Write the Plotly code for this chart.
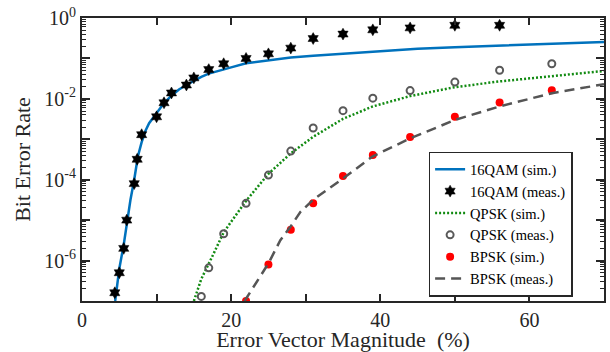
import plotly.graph_objects as go

# ---------------- data ----------------
qam16_sim_x = [4.45, 5.0, 5.6, 6.0, 6.5, 7.0, 7.5, 8.0, 8.5, 9.0, 10, 11, 12, 13, 14, 15, 16, 17, 18,
               20, 22, 25, 28, 31, 35, 40, 45, 50, 56, 63, 70]
qam16_sim_y = [1e-7, 6.3e-7, 2.5e-6, 8.9e-6, 3.2e-5, 1.0e-4, 3.8e-4, 8.5e-4, 1.6e-3, 2.5e-3, 4.4e-3,
               7.9e-3, 1.2e-2, 1.7e-2, 2.2e-2, 2.8e-2, 3.5e-2, 4.2e-2, 4.8e-2,
               6.0e-2, 7.6e-2, 8.9e-2, 0.105, 0.117, 0.132, 0.151, 0.174, 0.19, 0.209, 0.232, 0.254]

qam16_meas_x = [4.4, 5.0, 5.6, 6.0, 7.0, 7.4, 8.0, 10, 11, 12, 14, 15, 17, 19, 22, 25, 28, 31,
                35, 39, 44, 50, 56]
qam16_meas_y = [1.6e-7, 5e-7, 2e-6, 1e-5, 8e-5, 3.2e-4, 1.3e-3, 3.6e-3, 8e-3, 1.4e-2, 2.2e-2, 3.3e-2,
                5.3e-2, 7.4e-2, 0.10, 0.13, 0.18, 0.31, 0.40, 0.51, 0.57, 0.66, 0.66]

qpsk_sim_x = [15.0, 16, 17.5, 19, 22, 25, 28, 31, 35, 39, 44, 50, 56, 63, 70]
qpsk_sim_y = [1e-7, 3.5e-7, 1.3e-6, 5.0e-6, 3.0e-5, 1.4e-4, 4.5e-4, 1.15e-3, 3.2e-3, 6.5e-3,
              1.17e-2, 1.95e-2, 2.7e-2, 3.7e-2, 4.9e-2]

qpsk_meas_x = [16, 17, 19, 22, 25, 28, 31, 35, 39, 44, 50, 56, 63]
qpsk_meas_y = [1.3e-7, 6.6e-7, 4.6e-6, 2.6e-5, 1.3e-4, 5.1e-4, 1.9e-3, 5.1e-3, 1.04e-2, 1.6e-2,
               2.6e-2, 5.1e-2, 7.4e-2]

bpsk_sim_x = [22, 25, 28, 31, 35, 39, 44, 50, 56, 63]
bpsk_sim_y = [1e-7, 8e-7, 5.8e-6, 2.6e-5, 1.23e-4, 4.1e-4, 1.14e-3, 3.6e-3, 8.1e-3, 1.64e-2]

bpsk_meas_x = [21.8, 23.9, 25, 26.6, 28, 29.3, 31, 35, 39, 44, 50, 56, 63, 70]
bpsk_meas_y = [1e-7, 3.9e-7, 8.5e-7, 3.2e-6, 7.1e-6, 1.6e-5, 3.2e-5, 1.07e-4, 3.8e-4, 1.05e-3,
               3.0e-3, 6.5e-3, 1.38e-2, 2.3e-2]

x_tick_vals = [0, 10, 20, 30, 40, 50, 60, 70]
x_tick_text = ["0", "", "20", "", "40", "", "60", ""]
y_tick_vals = [1e-7, 1e-6, 1e-5, 1e-4, 1e-3, 1e-2, 1e-1, 1]
y_tick_text = ["", "10<sup>-6</sup>", "", "10<sup>-4</sup>", "", "10<sup>-2</sup>", "", "10<sup>0</sup>"]

# ---------------- figure ----------------
FONT = "Liberation Serif, Times New Roman, serif"
AXC = "#262626"

fig = go.Figure()
fig.add_trace(go.Scatter(x=qam16_sim_x, y=qam16_sim_y, mode="lines", name="16QAM (sim.)",
                         line=dict(color="#0072BD", width=2.5)))
fig.add_trace(go.Scatter(x=qam16_meas_x, y=qam16_meas_y, mode="markers", name="16QAM (meas.)",
                         marker=dict(symbol="hexagram", size=9, color="black",
                                     line=dict(color="black", width=0.5))))
fig.add_trace(go.Scatter(x=qpsk_sim_x, y=qpsk_sim_y, mode="lines", name="QPSK (sim.)",
                         line=dict(color="#118a11", width=2.5, dash="2px,2px")))
fig.add_trace(go.Scatter(x=qpsk_meas_x, y=qpsk_meas_y, mode="markers", name="QPSK (meas.)",
                         marker=dict(symbol="circle-open", size=7, color="#595959",
                                     line=dict(color="#595959", width=2))))
fig.add_trace(go.Scatter(x=bpsk_sim_x, y=bpsk_sim_y, mode="markers", name="BPSK (sim.)",
                         marker=dict(symbol="circle", size=8, color="#ff0000")))
fig.add_trace(go.Scatter(x=bpsk_meas_x, y=bpsk_meas_y, mode="lines", name="BPSK (meas.)",
                         line=dict(color="#555555", width=2.5, dash="10px,6px")))

minor_y = [m * 10.0 ** e for e in range(-7, 0) for m in range(2, 10)]

fig.update_xaxes(range=[0, 70], tickmode="array", tickvals=x_tick_vals, ticktext=x_tick_text,
                 ticks="inside", ticklen=7, tickwidth=1.5, tickcolor=AXC,
                 showline=True, linewidth=2, linecolor=AXC, mirror="ticks",
                 showgrid=False, zeroline=False, automargin=False,
                 tickfont=dict(family=FONT, size=20, color=AXC),
                 title=dict(text="Error Vector Magnitude  (%)",
                            font=dict(family=FONT, size=22, color=AXC), standoff=6))
fig.update_yaxes(type="log", range=[-7, 0], tickmode="array", tickvals=y_tick_vals,
                 ticktext=y_tick_text,
                 ticks="inside", ticklen=8, tickwidth=1.5, tickcolor=AXC,
                 minor=dict(tickmode="array", tickvals=minor_y, ticks="inside", ticklen=4,
                            tickwidth=1, tickcolor=AXC, showgrid=False),
                 showline=True, linewidth=2, linecolor=AXC, mirror="ticks",
                 showgrid=False, zeroline=False, automargin=False,
                 tickfont=dict(family=FONT, size=20, color=AXC),
                 title=dict(text="Bit Error Rate",
                            font=dict(family=FONT, size=22, color=AXC), standoff=8))

fig.update_layout(
    width=610, height=352,
    margin=dict(l=82, r=6, t=18, b=51),
    paper_bgcolor="white", plot_bgcolor="white",
    font=dict(family=FONT, color=AXC),
    legend=dict(x=0.664, y=0.527, xanchor="left", yanchor="top",
                bgcolor="white", bordercolor=AXC, borderwidth=1.5,
                font=dict(family=FONT, size=14.5, color="black"),
                itemwidth=30, tracegroupgap=0),
    showlegend=True,
)

# remove the default 8px page margin so the figure fills the 610x352 window exactly
fig.write_html("out.html", config={"displayModeBar": False},
               post_script="document.body.style.margin='0';document.body.style.overflow='hidden';")
